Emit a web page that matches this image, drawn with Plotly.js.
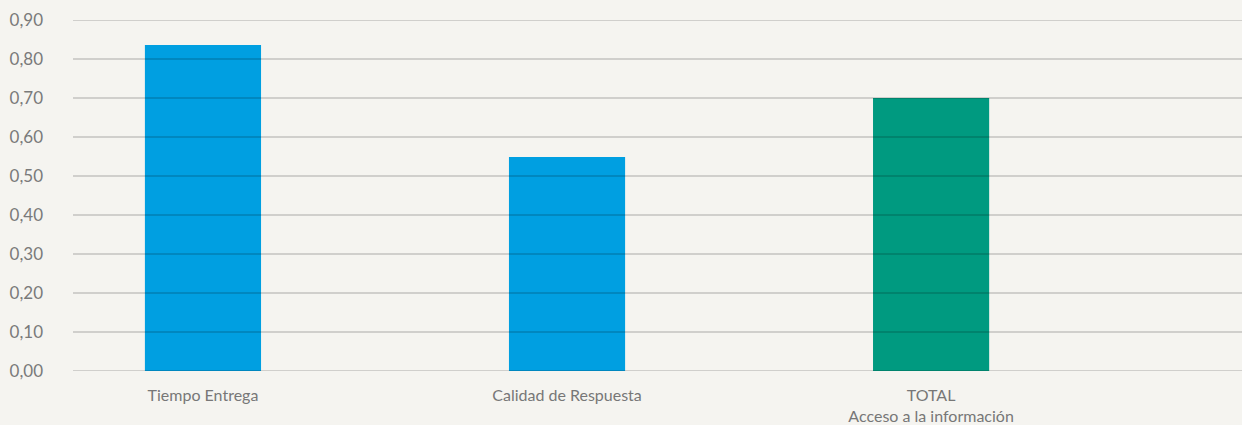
<!DOCTYPE html>
<html><head><meta charset="utf-8">
<script src="https://cdn.plot.ly/plotly-3.0.1.min.js"></script>
<style>body{margin:0;background:#f5f4f0}</style></head>
<body><div id="chart" style="width:1242px;height:425px"></div>
<script>
const categories = ["Tiempo Entrega", "Calidad de Respuesta", "TOTAL<br>Acceso a la información"];
const values = [0.836, 0.549, 0.70];
const barColors = ["#009fe1", "#009fe1", "#009a80"];
const tickValues = [0, 0.1, 0.2, 0.3, 0.4, 0.5, 0.6, 0.7, 0.8, 0.9];
const tickLabels = ["0,00","0,10","0,20","0,30","0,40","0,50","0,60","0,70","0,80","0,90"];

const gridShapes = tickValues.map(v => ({
  type: 'line', xref: 'paper', yref: 'y', x0: 0, x1: 1, y0: v, y1: v,
  line: {color: 'rgba(0,0,0,0.2)', width: 1.5}, layer: 'above'
}));

Plotly.newPlot('chart', [{
  type: 'bar', x: [0,1,2], y: values, width: 0.319,
  marker: {color: barColors, line: {width: 0}},
  hoverinfo: 'none'
}], {
  width: 1242, height: 425,
  margin: {l: 73, r: 0, t: 20, b: 54},
  paper_bgcolor: '#f5f4f0', plot_bgcolor: '#f5f4f0',
  font: {family: 'Lato, "Noto Sans", sans-serif', color: '#7a7a7a', size: 16},
  showlegend: false,
  xaxis: {range: [-0.357, 2.854], tickvals: [0,1,2], ticktext: categories,
    showgrid: false, zeroline: false, showline: false, ticks: '',
    tickfont: {size: 16, color: '#777'}, ticklabelstandoff: 13},
  yaxis: {range: [0, 0.9], tickvals: tickValues, ticktext: tickLabels,
    showgrid: false, zeroline: false, showline: false, ticks: '',
    tickfont: {size: 17, color: '#7a7a7a'}, ticklabelstandoff: 29},
  shapes: gridShapes
}, {staticPlot: true});
</script></body></html>
